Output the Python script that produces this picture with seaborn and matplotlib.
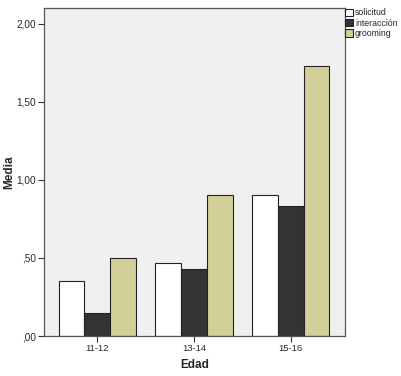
import pandas as pd
import seaborn as sns
import matplotlib.pyplot as plt

# Data
edad = ['11-12', '13-14', '15-16']
solicitud = [0.35, 0.47, 0.90]
interaccion = [0.15, 0.43, 0.83]
grooming = [0.50, 0.90, 1.73]
series = ['solicitud', 'interacción', 'grooming']
ytick_vals = [0.0, 0.5, 1.0, 1.5, 2.0]
ytick_labels = [',00', ',50', '1,00', '1,50', '2,00']

df = pd.DataFrame({
    'Edad': edad * 3,
    'Media': solicitud + interaccion + grooming,
    'serie': [s for s in series for _ in edad],
})

sns.set_style('white')
plt.rcParams['font.family'] = ['Liberation Sans', 'DejaVu Sans']

fig = plt.figure(figsize=(4.01, 3.76), dpi=100)
ax = fig.add_axes([0.110, 0.106, 0.750, 0.873])
ax.set_facecolor('#f0f0f0')

palette = {'solicitud': '#ffffff', 'interacción': '#333333', 'grooming': '#d3cf99'}
sns.barplot(data=df, x='Edad', y='Media', hue='serie', hue_order=series,
            palette=palette, width=0.8, edgecolor='#222222', linewidth=0.8,
            ax=ax, errorbar=None, saturation=1)

ax.set_ylim(0, 2.10)
ax.set_xlim(-0.55, 2.56)
ax.set_yticks(ytick_vals)
ax.set_yticklabels(ytick_labels, fontsize=7.2)
ax.tick_params(axis='x', labelsize=6.8)
ax.tick_params(axis='both', length=4, width=0.8, color='#333333', direction='out',
               left=True, bottom=True, pad=2)
for side in ['top', 'right', 'left', 'bottom']:
    ax.spines[side].set_color('#555555')
    ax.spines[side].set_linewidth(0.9)

ax.set_xlabel('Edad', fontsize=8.5, fontweight='bold', labelpad=4)
ax.set_ylabel('Media', fontsize=8.5, fontweight='bold')
ax.yaxis.set_label_coords(-0.097, 0.5)

leg = ax.legend(loc='upper left', bbox_to_anchor=(1.0, 1.0), frameon=False,
                fontsize=6.3, handlelength=0.9, handleheight=0.9,
                handletextpad=0.2, labelspacing=0.15, borderaxespad=0.05,
                borderpad=0.0)

fig.savefig('out.png', dpi=100)
